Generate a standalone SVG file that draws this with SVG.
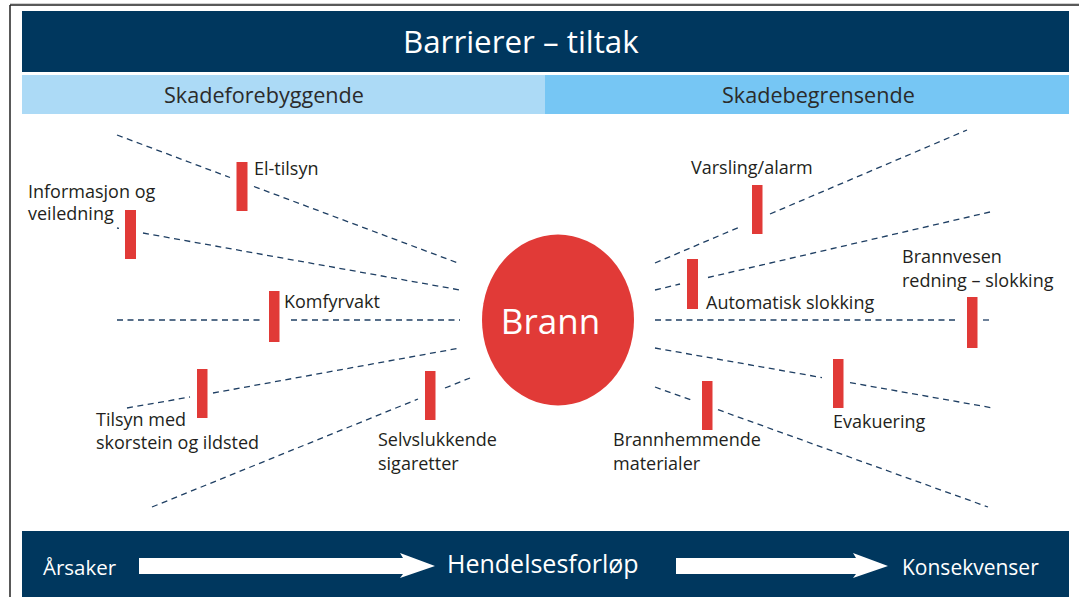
<svg xmlns="http://www.w3.org/2000/svg" width="1079" height="597" viewBox="0 0 1079 597">
<style>
  .lbl { font-family: "Open Sans", "Noto Sans", "Liberation Sans", sans-serif; font-size: 18px; fill: #231f20; }
  .bar { fill: #e13a37; }
  .dash { stroke: #1f3f63; stroke-width: 1.3; stroke-dasharray: 6 4.5; fill: none; }
  .wt { font-family: "Open Sans", "Noto Sans", "Liberation Sans", sans-serif; fill: #ffffff; }
  .sub { font-family: "Open Sans", "Noto Sans", "Liberation Sans", sans-serif; font-size: 21.6px; fill: #2b2b2b; }
  .arrow { fill: #ffffff; }
</style>
<rect x="0" y="0" width="1079" height="597" fill="#ffffff"/>
<g id="frame">
  <line x1="10" y1="3.5" x2="1079" y2="3.5" stroke="#d0d0d0" stroke-width="1"/>
  <line x1="10" y1="5" x2="1079" y2="5" stroke="#222" stroke-width="1.5"/>
  <line x1="10" y1="5" x2="10" y2="597" stroke="#222" stroke-width="1.5"/>
</g>
<g id="header">
  <rect x="22" y="11" width="1047" height="61" fill="#00375e"/>
  <text class="wt" x="403" y="53" font-size="31.3">Barrierer – tiltak</text>
</g>
<g id="skadeforebyggende">
  <rect x="22" y="75" width="523" height="39" fill="#acdaf6"/>
  <text class="sub" x="164" y="103">Skadeforebyggende</text>
</g>
<g id="skadebegrensende">
  <rect x="545" y="75" width="524" height="39" fill="#76c6f4"/>
  <text class="sub" x="722" y="103">Skadebegrensende</text>
</g>
<g id="connectors">
  <line class="dash" x1="117" y1="135" x2="230" y2="177.5"/>
  <line class="dash" x1="254" y1="186.5" x2="458" y2="263"/>
  <line class="dash" x1="117" y1="228" x2="119" y2="228.4"/>
  <line class="dash" x1="143" y1="233" x2="460" y2="290"/>
  <line class="dash" x1="117" y1="320" x2="263" y2="320"/>
  <line class="dash" x1="291" y1="320" x2="460" y2="320"/>
  <line class="dash" x1="127" y1="408" x2="190" y2="397"/>
  <line class="dash" x1="213" y1="393" x2="460" y2="348"/>
  <line class="dash" x1="152" y1="507" x2="418" y2="399"/>
  <line class="dash" x1="445" y1="388" x2="470" y2="378"/>
  <line class="dash" x1="655" y1="263" x2="742" y2="226"/>
  <line class="dash" x1="770" y1="214" x2="967" y2="130"/>
  <line class="dash" x1="655" y1="290" x2="680" y2="284"/>
  <line class="dash" x1="708" y1="277.5" x2="990" y2="212"/>
  <line class="dash" x1="655" y1="320" x2="955" y2="320"/>
  <line class="dash" x1="983" y1="320" x2="989" y2="320"/>
  <line class="dash" x1="655" y1="348" x2="822" y2="377.6"/>
  <line class="dash" x1="850" y1="382.6" x2="993" y2="408"/>
  <line class="dash" x1="655" y1="387" x2="692" y2="400.3"/>
  <line class="dash" x1="718" y1="409.7" x2="988" y2="507"/>
</g>
<g id="brann">
  <ellipse cx="558" cy="320" rx="76" ry="85.5" fill="#e13a37"/>
  <text class="wt" x="550.5" y="334" font-size="35" text-anchor="middle">Brann</text>
</g>
<g id="el-tilsyn">
  <rect class="bar" x="236.5" y="162" width="11" height="49"/>
  <text class="lbl" x="254" y="175">El-tilsyn</text>
</g>
<g id="informasjon">
  <rect class="bar" x="125" y="210" width="11" height="49"/>
  <text class="lbl" x="28" y="198">Informasjon og</text>
  <text class="lbl" x="28" y="220">veiledning</text>
</g>
<g id="komfyrvakt">
  <rect class="bar" x="269" y="291" width="10.5" height="51"/>
  <text class="lbl" x="284" y="308">Komfyrvakt</text>
</g>
<g id="tilsyn">
  <rect class="bar" x="197" y="369" width="10.5" height="49"/>
  <text class="lbl" x="96" y="426">Tilsyn med</text>
  <text class="lbl" x="96" y="449">skorstein og ildsted</text>
</g>
<g id="selvslukkende">
  <rect class="bar" x="425" y="371" width="10.5" height="49"/>
  <text class="lbl" x="378" y="446">Selvslukkende</text>
  <text class="lbl" x="378" y="470">sigaretter</text>
</g>
<g id="varsling">
  <rect class="bar" x="752" y="185" width="10.5" height="49"/>
  <text class="lbl" x="691" y="174">Varsling/alarm</text>
</g>
<g id="automatisk">
  <rect class="bar" x="687" y="259" width="11" height="50"/>
  <text class="lbl" x="706" y="309">Automatisk slokking</text>
</g>
<g id="brannvesen">
  <rect class="bar" x="967" y="297" width="10.5" height="51"/>
  <text class="lbl" x="902" y="263">Brannvesen</text>
  <text class="lbl" x="902" y="287">redning – slokking</text>
</g>
<g id="evakuering">
  <rect class="bar" x="833" y="359" width="10.5" height="49"/>
  <text class="lbl" x="833" y="428">Evakuering</text>
</g>
<g id="brannhemmende">
  <rect class="bar" x="702" y="381" width="10.5" height="49"/>
  <text class="lbl" x="613" y="446">Brannhemmende</text>
  <text class="lbl" x="613" y="470">materialer</text>
</g>
<g id="footer">
  <rect x="22" y="531" width="1047" height="66" fill="#00375e"/>
  <text class="wt" x="43" y="575" font-size="20.5">Årsaker</text>
  <polygon class="arrow" points="139,558 403,558 400,553 435,566 400,578 403,574 139,574"/>
  <text class="wt" x="447" y="573" font-size="25">Hendelsesforløp</text>
  <polygon class="arrow" points="676,558 856,558 853,553 888,566 853,578 856,574 676,574"/>
  <text class="wt" x="902" y="575" font-size="21">Konsekvenser</text>
</g>
</svg>
